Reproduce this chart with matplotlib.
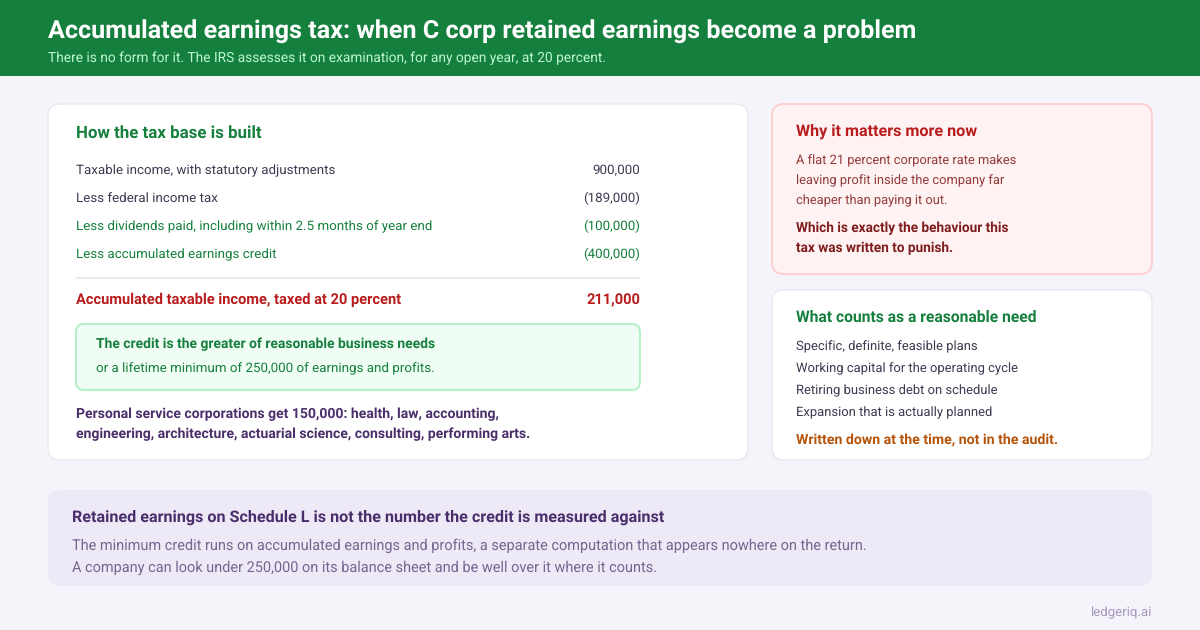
import matplotlib
matplotlib.use("Agg")
import matplotlib.pyplot as plt
from matplotlib.patches import FancyBboxPatch, Rectangle

plt.rcParams['font.family'] = ['Roboto', 'DejaVu Sans']
plt.rcParams['text.hinting'] = 'no_hinting'

GREEN = '#15803d'
RED = '#b91c1c'
DARK_RED = '#7f1d1d'
PURPLE = '#4a2f6b'
INK = '#3f3a52'

title = 'Accumulated earnings tax: when C corp retained earnings become a problem'
subtitle = 'There is no form for it. The IRS assesses it on examination, for any open year, at 20 percent.'

row_labels = ['Taxable income, with statutory adjustments', 'Less federal income tax',
              'Less dividends paid, including within 2.5 months of year end', 'Less accumulated earnings credit']
row_values = ['900,000', '(189,000)', '(100,000)', '(400,000)']
row_colors = [INK, INK, GREEN, GREEN]
total_label = 'Accumulated taxable income, taxed at 20 percent'
total_value = '211,000'

psc_lines = ['Personal service corporations get 150,000: health, law, accounting,',
             'engineering, architecture, actuarial science, consulting, performing arts.']
why_lines = ['A flat 21 percent corporate rate makes', 'leaving profit inside the company far',
             'cheaper than paying it out.']
why_bold = ['Which is exactly the behaviour this', 'tax was written to punish.']
need_lines = ['Specific, definite, feasible plans', 'Working capital for the operating cycle',
              'Retiring business debt on schedule', 'Expansion that is actually planned']
note_lines = ['The minimum credit runs on accumulated earnings and profits, a separate computation that appears nowhere on the return.',
              'A company can look under 250,000 on its balance sheet and be well over it where it counts.']

fig = plt.figure(figsize=(12, 6.3), dpi=100, facecolor='#f5f4fb')
ax = fig.add_axes([0, 0, 1, 1])
ax.set_xlim(0, 1200)
ax.set_ylim(630, 0)
ax.axis('off')


def card(x0, y0, x1, y1, face, edge, r=12, lw=1.1):
    ax.add_patch(FancyBboxPatch((x0, y0), x1 - x0, y1 - y0, boxstyle=f'round,pad=0,rounding_size={r}',
                                fc=face, ec=edge, lw=lw))


def txt(x, y, s, size, color, bold=False, ha='left'):
    # size is in pixels, y is the baseline
    ax.text(x, y, s, fontsize=size * 0.72, color=color, ha=ha, va='baseline',
            fontweight='bold' if bold else 'normal')


ax.add_patch(Rectangle((0, 0), 1200, 76, fc=GREEN, ec='none'))
txt(48, 38, title, 25.12, 'white', True)
txt(48, 62, subtitle, 13.8, '#bbf7d0')

# left card
card(48, 104, 748, 460, 'white', '#eae9f2')
txt(76, 138, 'How the tax base is built', 16.9, GREEN, True)
for i in range(4):
    y = 174.4 + 28 * i
    txt(76, y, row_labels[i], 13.4, row_colors[i])
    txt(640, y, row_values[i], 13.4, row_colors[i], ha='right')
ax.plot([76, 640], [278, 278], color='#eae9f2', lw=1.5, solid_capstyle='butt')
txt(76, 304, total_label, 14.6, RED, True)
txt(640, 304, total_value, 14.6, RED, True, ha='right')

card(76, 324, 640, 390, '#f0fdf4', '#a9efc0', r=8, lw=1.2)
txt(96, 348, 'The credit is the greater of reasonable business needs', 13.9, GREEN, True)
txt(96, 372, 'or a lifetime minimum of 250,000 of earnings and profits.', 13.45, GREEN)
for i, line in enumerate(psc_lines):
    txt(76, 418 + 20 * i, line, 14.05, PURPLE, True)

# red card
card(772, 104, 1152, 274, '#fef2f2', '#fecaca', lw=1.2)
txt(796, 136, 'Why it matters more now', 16.1, RED, True)
for i, line in enumerate(why_lines):
    txt(796, 164 + 20 * i, line, 12.9, '#943a3a')
for i, line in enumerate(why_bold):
    txt(796, 232 + 20 * i, line, 13.6, DARK_RED, True)

# needs card
card(772, 290, 1152, 460, 'white', '#eae9f2')
txt(796, 322, 'What counts as a reasonable need', 15.6, GREEN, True)
for i, line in enumerate(need_lines):
    txt(796, 350 + 22 * i, line, 13, INK)
txt(796, 444.5, 'Written down at the time, not in the audit.', 14.1, '#b45309', True)

# bottom note
card(48, 490, 1152, 586, '#ede9f7', 'none', lw=0)
txt(72, 522, 'Retained earnings on Schedule L is not the number the credit is measured against', 16.1, PURPLE, True)
for i, line in enumerate(note_lines):
    txt(72, 550 + 22 * i, line, 14.55, '#76668f')

txt(1152, 616, 'ledgeriq.ai', 13.2, '#a598bd', ha='right')

fig.savefig('out.png', dpi=100, facecolor=fig.get_facecolor())
